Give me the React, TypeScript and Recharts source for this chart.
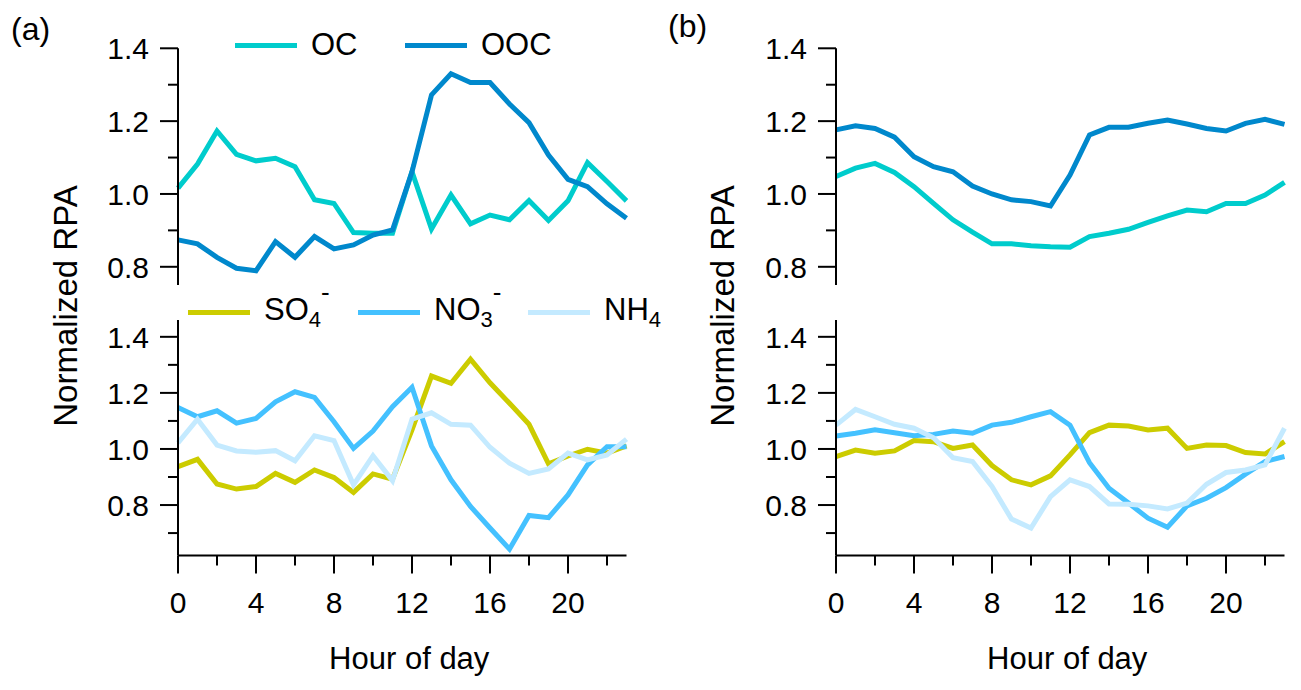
import { LineChart, Line, XAxis, YAxis, Legend } from 'recharts';
import type { ReactNode } from 'react';

// hour of day (x categories)
const hours = [0, 1, 2, 3, 4, 5, 6, 7, 8, 9, 10, 11, 12, 13, 14, 15, 16, 17, 18, 19, 20, 21, 22, 23];

// panel (a)
const ocA = [1.016, 1.082, 1.173, 1.109, 1.091, 1.098, 1.075, 0.984, 0.974, 0.894, 0.892, 0.892, 1.061, 0.904, 0.997, 0.918, 0.942, 0.929, 0.982, 0.927, 0.981, 1.086, 1.034, 0.981];
const oocA = [0.874, 0.863, 0.826, 0.796, 0.789, 0.869, 0.826, 0.883, 0.849, 0.86, 0.887, 0.901, 1.061, 1.272, 1.33, 1.306, 1.306, 1.247, 1.196, 1.107, 1.04, 1.02, 0.973, 0.933];
const so4A = [0.937, 0.963, 0.875, 0.857, 0.866, 0.913, 0.881, 0.925, 0.898, 0.845, 0.911, 0.892, 1.068, 1.26, 1.234, 1.32, 1.236, 1.163, 1.088, 0.947, 0.975, 0.999, 0.985, 1.011];
const no3A = [1.148, 1.115, 1.136, 1.092, 1.109, 1.168, 1.204, 1.184, 1.097, 1.002, 1.064, 1.151, 1.22, 1.011, 0.89, 0.795, 0.718, 0.643, 0.763, 0.755, 0.836, 0.943, 1.008, 1.008];
const nh4A = [1.022, 1.106, 1.014, 0.993, 0.988, 0.994, 0.958, 1.047, 1.03, 0.872, 0.976, 0.887, 1.106, 1.129, 1.088, 1.085, 1.006, 0.949, 0.913, 0.929, 0.985, 0.961, 0.979, 1.035];

// panel (b)
const ocB = [1.048, 1.071, 1.084, 1.059, 1.02, 0.974, 0.929, 0.895, 0.863, 0.863, 0.858, 0.855, 0.854, 0.883, 0.892, 0.903, 0.922, 0.94, 0.956, 0.951, 0.974, 0.974, 0.997, 1.032];
const oocB = [1.176, 1.187, 1.18, 1.156, 1.102, 1.075, 1.061, 1.022, 1.0, 0.984, 0.979, 0.967, 1.052, 1.162, 1.183, 1.183, 1.194, 1.203, 1.192, 1.18, 1.173, 1.194, 1.205, 1.191];
const so4B = [0.973, 0.996, 0.985, 0.993, 1.03, 1.026, 1.002, 1.014, 0.941, 0.89, 0.872, 0.904, 0.979, 1.058, 1.085, 1.082, 1.068, 1.074, 1.002, 1.014, 1.012, 0.987, 0.982, 1.026];
const no3B = [1.046, 1.056, 1.068, 1.058, 1.047, 1.052, 1.064, 1.056, 1.085, 1.095, 1.115, 1.133, 1.085, 0.951, 0.86, 0.807, 0.753, 0.721, 0.797, 0.824, 0.862, 0.91, 0.955, 0.973];
const nh4B = [1.085, 1.141, 1.115, 1.088, 1.074, 1.04, 0.969, 0.955, 0.866, 0.75, 0.718, 0.83, 0.89, 0.866, 0.804, 0.803, 0.797, 0.786, 0.807, 0.874, 0.916, 0.925, 0.943, 1.074];

const hourTicks = [0, 2, 4, 6, 8, 10, 12, 14, 16, 18, 20, 22];
const topTicks = [0.8, 0.9, 1.0, 1.1, 1.2, 1.3, 1.4];
const bottomTicks = [0.7, 0.8, 0.9, 1.0, 1.1, 1.2, 1.3, 1.4];

const COLORS = {
  oc: '#00cccc',
  ooc: '#0088cc',
  so4: '#cccc00',
  no3: '#44c1ff',
  nh4: '#c4eaff',
};

const FONT = 'Arial, "Liberation Sans", Helvetica, sans-serif';

const dataA = hours.map((h, i) => ({ hour: h, oc: ocA[i], ooc: oocA[i], so4: so4A[i], no3: no3A[i], nh4: nh4A[i] }));
const dataB = hours.map((h, i) => ({ hour: h, oc: ocB[i], ooc: oocB[i], so4: so4B[i], no3: no3B[i], nh4: nh4B[i] }));

function YTick(props: any) {
  const { x, y, payload } = props;
  const v = payload.value as number;
  const major = Math.round(v * 10) % 2 === 0;
  return (
    <g>
      <line x1={x - (major ? 18 : 10)} x2={x} y1={y} y2={y} stroke="#000" strokeWidth={2} />
      {major && (
        <text x={x - 29} y={y} dy="0.36em" textAnchor="end" fontSize={30} fill="#000">
          {v.toFixed(1)}
        </text>
      )}
    </g>
  );
}

function XTick(props: any) {
  const { x, y, payload } = props;
  const major = payload.value % 4 === 0;
  return (
    <g>
      <line x1={x} x2={x} y1={y} y2={y + (major ? 18 : 10)} stroke="#000" strokeWidth={2} />
      {major && (
        <text x={x} y={y + 57} textAnchor="middle" fontSize={30} fill="#000">
          {payload.value}
        </text>
      )}
    </g>
  );
}

interface LegendItem {
  key: string;
  color: string;
  label: ReactNode;
}

function LegendRow({ items }: { items: LegendItem[] }) {
  return (
    <div style={{ display: 'flex', fontFamily: FONT, color: '#000' }}>
      {items.map((it) => (
        <div key={it.key} style={{ width: 170, height: 36, display: 'flex', alignItems: 'center' }}>
          <div style={{ width: 62, height: 5, background: it.color, marginRight: 14, position: 'relative', top: 1 }} />
          <span style={{ fontSize: 31, lineHeight: '36px', whiteSpace: 'nowrap' }}>{it.label}</span>
        </div>
      ))}
    </div>
  );
}

const sub = (t: string) => <span style={{ fontSize: 22, position: 'relative', top: 7 }}>{t}</span>;
const sup = (t: string) => <span style={{ fontSize: 26, position: 'relative', top: -19 }}>{t}</span>;

const organicLegend: LegendItem[] = [
  { key: 'oc', color: COLORS.oc, label: 'OC' },
  { key: 'ooc', color: COLORS.ooc, label: 'OOC' },
];

const inorganicLegend: LegendItem[] = [
  { key: 'so4', color: COLORS.so4, label: <>SO{sub('4')}{sup('-')}</> },
  { key: 'no3', color: COLORS.no3, label: <>NO{sub('3')}{sup('-')}</> },
  { key: 'nh4', color: COLORS.nh4, label: <>NH{sub('4')}</> },
];

const CHART_W = 640;

function Panel({ left, data, legends }: { left: number; data: any[]; legends: boolean }) {
  return (
    <div style={{ position: 'absolute', left, top: 0, width: CHART_W, height: 690 }}>
      <div style={{ position: 'absolute', left: 0, top: 0 }}>
        <LineChart width={CHART_W} height={300} data={data} margin={{ top: 48.3, right: 13.5, bottom: 15, left: 118 }}>
          <XAxis dataKey="hour" type="number" domain={[0, 23]} hide />
          <YAxis
            type="number"
            domain={[0.75, 1.4]}
            allowDataOverflow
            ticks={topTicks}
            interval={0}
            width={60}
            tickSize={0}
            tickMargin={0}
            tickLine={false}
            axisLine={{ stroke: '#000', strokeWidth: 2 }}
            tick={<YTick />}
          />
          {legends && (
            <Legend
              layout="horizontal"
              verticalAlign="middle"
              align="center"
              wrapperStyle={{ left: 235, top: 26.5, width: 'auto' }}
              content={() => <LegendRow items={organicLegend} />}
            />
          )}
          <Line type="linear" dataKey="oc" stroke={COLORS.oc} strokeWidth={5} dot={false} isAnimationActive={false} />
          <Line type="linear" dataKey="ooc" stroke={COLORS.ooc} strokeWidth={5} dot={false} isAnimationActive={false} />
        </LineChart>
      </div>
      <div style={{ position: 'absolute', left: 0, top: 300 }}>
        <LineChart width={CHART_W} height={390} data={data} margin={{ top: 20, right: 13.5, bottom: 54.5, left: 118 }}>
          <XAxis
            dataKey="hour"
            type="number"
            domain={[0, 23]}
            ticks={hourTicks}
            interval={0}
            height={80}
            tickSize={0}
            tickMargin={0}
            tickLine={false}
            axisLine={{ stroke: '#000', strokeWidth: 2 }}
            tick={<XTick />}
            label={{ value: 'Hour of day', position: 'insideBottom', offset: -33, dx: 7, fontSize: 31, fill: '#000' }}
          />
          <YAxis
            type="number"
            domain={[0.62, 1.46]}
            allowDataOverflow
            ticks={bottomTicks}
            interval={0}
            width={60}
            tickSize={0}
            tickMargin={0}
            tickLine={false}
            axisLine={{ stroke: '#000', strokeWidth: 2 }}
            tick={<YTick />}
          />
          {legends && (
            <Legend
              layout="horizontal"
              verticalAlign="middle"
              align="center"
              wrapperStyle={{ left: 188, top: -7, width: 'auto' }}
              content={() => <LegendRow items={inorganicLegend} />}
            />
          )}
          <Line type="linear" dataKey="so4" stroke={COLORS.so4} strokeWidth={5} dot={false} isAnimationActive={false} />
          <Line type="linear" dataKey="no3" stroke={COLORS.no3} strokeWidth={5} dot={false} isAnimationActive={false} />
          <Line type="linear" dataKey="nh4" stroke={COLORS.nh4} strokeWidth={5} dot={false} isAnimationActive={false} />
        </LineChart>
      </div>
    </div>
  );
}

export default function App() {
  return (
    <div
      style={{
        position: 'absolute',
        left: 0,
        top: 0,
        width: 1301,
        height: 690,
        overflow: 'hidden',
        background: '#fff',
        fontFamily: FONT,
      }}
    >
      <Panel left={0} data={dataA} legends />
      <Panel left={657.7} data={dataB} legends={false} />
      <svg width={1301} height={690} style={{ position: 'absolute', left: 0, top: 0, pointerEvents: 'none' }}>
        <text x={11} y={40} fontSize={32} fill="#000">(a)</text>
        <text x={668} y={37} fontSize={32} fill="#000">(b)</text>
        <text transform="translate(76.5,306) rotate(-90)" textAnchor="middle" fontSize={33} fill="#000">
          Normalized RPA
        </text>
        <text transform="translate(734.2,306) rotate(-90)" textAnchor="middle" fontSize={33} fill="#000">
          Normalized RPA
        </text>
      </svg>
    </div>
  );
}
